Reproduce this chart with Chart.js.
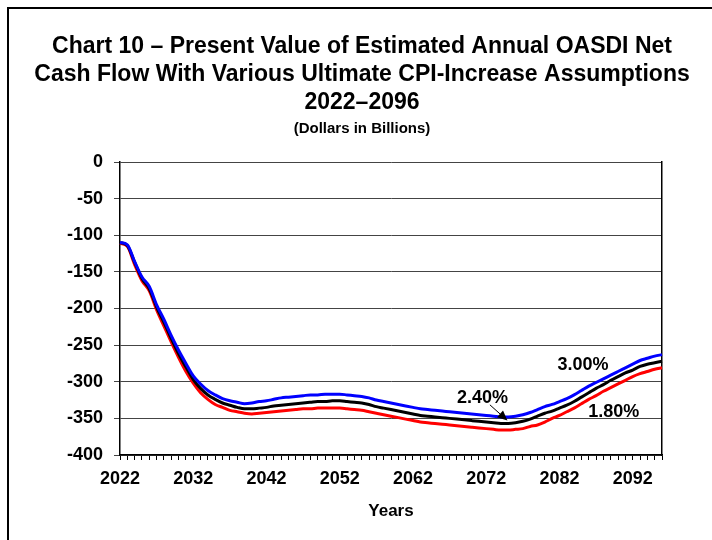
<!DOCTYPE html>
<html>
<head>
<meta charset="utf-8">
<script src="https://cdn.jsdelivr.net/npm/chart.js@4/dist/chart.umd.min.js"></script>
<style>
  html, body { margin: 0; padding: 0; background: #fff; }
  #wrap { position: relative; width: 712px; height: 540px; overflow: hidden; }
  #frame { position: absolute; left: 7px; top: 7px; width: 760px; height: 600px; border: 2px solid #000; box-sizing: border-box; }
  canvas { position: absolute; left: 0; top: 0; }
</style>
</head>
<body>
<div id="wrap">
  <div id="frame"></div>
  <canvas id="c" width="712" height="540"></canvas>
</div>
<script>
// ---- Data ----
const years = [];
for (let y = 2022; y <= 2096; y++) years.push(y);

const labeledYears = [2022, 2032, 2042, 2052, 2062, 2072, 2082, 2092];

const titleLines = [
  'Chart 10 \u2013 Present Value of Estimated Annual OASDI Net',
  'Cash Flow With Various Ultimate CPI-Increase Assumptions',
  '2022\u20132096'
];
const subtitleText = '(Dollars in Billions)';
const xAxisTitle = 'Years';

const seriesNames = ['3.00%', '2.40%', '1.80%'];

// 3.00% ultimate CPI increase (blue)
const cpi300 = [
  -110, -113, -136, -157, -170, -195, -215, -237, -257, -275,
  -292, -303, -312, -318, -323, -326, -328, -330, -329, -327,
  -326, -324, -322, -321, -320, -319, -318, -318, -317, -317,
  -317, -318, -319, -320, -322, -325, -327, -329, -331, -333,
  -335, -337, -338, -339, -340, -341, -342, -343, -344, -345,
  -346, -347, -348, -348, -347, -345, -342, -338, -334, -331,
  -327, -323, -318, -312, -306, -301, -296, -291, -286, -281,
  -276, -271, -268, -265, -263
];
// 2.40% ultimate CPI increase (black)
const cpi240 = [
  -110, -114, -137, -159, -173, -198, -219, -241, -262, -280,
  -297, -309, -318, -324, -329, -332, -335, -337, -337, -336,
  -335, -333, -332, -331, -330, -329, -328, -327, -327, -326,
  -326, -327, -328, -329, -331, -334, -336, -338, -340, -342,
  -344, -346, -347, -348, -349, -350, -351, -352, -353, -354,
  -355, -356, -357, -357, -356, -354, -351, -347, -343, -340,
  -336, -332, -327, -321, -315, -309, -304, -298, -293, -288,
  -284, -279, -276, -274, -272
];
// 1.80% ultimate CPI increase (red)
const cpi180 = [
  -111, -115, -140, -162, -176, -202, -224, -246, -267, -286,
  -302, -315, -324, -331, -335, -339, -341, -343, -344, -343,
  -342, -341, -340, -339, -338, -337, -337, -336, -336, -336,
  -336, -337, -338, -339, -341, -343, -345, -347, -349, -351,
  -353, -355, -356, -357, -358, -359, -360, -361, -362, -363,
  -364, -365, -366, -366, -365, -364, -361, -359, -355, -350,
  -346, -341, -336, -330, -324, -319, -313, -308, -303, -298,
  -293, -289, -286, -283, -281
];

// Annotation positions in data units (year, value)
const noteTexts = ['3.00%', '2.40%', '1.80%'];
const noteYears = [2085.2, 2071.5, 2089.4];
const noteValues = [-277, -322, -341];
const arrowFrom = [2072.5, -331.5];
const arrowTo = [2074.9, -353];

// ---- Chart ----
const FONT = "'Liberation Sans', Arial, Helvetica, sans-serif";

const annotationPlugin = {
  id: 'notes',
  afterDatasetsDraw(chart) {
    const { ctx, scales: { x, y } } = chart;
    const px = (yr) => x.getPixelForValue(yr - years[0]);
    ctx.save();
    ctx.fillStyle = '#000';
    ctx.font = 'bold 18px ' + FONT;
    ctx.textAlign = 'center';
    ctx.textBaseline = 'middle';
    for (let i = 0; i < noteTexts.length; i++) {
      ctx.fillText(noteTexts[i], px(noteYears[i]), y.getPixelForValue(noteValues[i]));
    }
    // arrow
    const x1 = px(arrowFrom[0]), y1 = y.getPixelForValue(arrowFrom[1]);
    const x2 = px(arrowTo[0]), y2 = y.getPixelForValue(arrowTo[1]);
    const ang = Math.atan2(y2 - y1, x2 - x1);
    const head = 10, hw = 4.5;
    const bx = x2 - head * Math.cos(ang), by = y2 - head * Math.sin(ang);
    ctx.strokeStyle = '#000';
    ctx.lineWidth = 1;
    ctx.beginPath();
    ctx.moveTo(x1, y1);
    ctx.lineTo(bx, by);
    ctx.stroke();
    ctx.beginPath();
    ctx.moveTo(x2, y2);
    ctx.lineTo(bx + hw * Math.sin(ang), by - hw * Math.cos(ang));
    ctx.lineTo(bx - hw * Math.sin(ang), by + hw * Math.cos(ang));
    ctx.closePath();
    ctx.fill();
    ctx.restore();
  }
};

new Chart(document.getElementById('c'), {
  type: 'line',
  data: {
    labels: years,
    datasets: [
      { label: seriesNames[0], data: cpi300, borderColor: '#0000FF', order: 1 },
      { label: seriesNames[1], data: cpi240, borderColor: '#000000', order: 2 },
      { label: seriesNames[2], data: cpi180, borderColor: '#FF0000', order: 3 }
    ].map(d => Object.assign(d, { borderWidth: 3, pointRadius: 0, fill: false, cubicInterpolationMode: 'monotone' }))
  },
  options: {
    responsive: false,
    animation: false,
    devicePixelRatio: 1,
    layout: { padding: { left: 12, right: 0, top: 0, bottom: 0 } },
    plugins: {
      legend: { display: false },
      tooltip: { enabled: false },
      title: {
        display: true,
        text: titleLines,
        color: '#000',
        font: { family: FONT, size: 23, weight: 'bold', lineHeight: 28 / 23 },
        padding: { top: 33, bottom: 2 }
      },
      subtitle: {
        display: true,
        text: subtitleText,
        color: '#000',
        font: { family: FONT, size: 15, weight: 'bold', lineHeight: 18 / 15 },
        padding: { top: 1, bottom: 24 }
      }
    },
    scales: {
      x: {
        type: 'category',
        offset: false,
        grid: { display: true, drawOnChartArea: false, drawTicks: true, tickLength: 5, color: '#000', lineWidth: 1 },
        border: { display: true, color: '#000', width: 1.5 },
        ticks: {
          autoSkip: false, maxRotation: 0, minRotation: 0, padding: 8, color: '#000',
          font: { family: FONT, size: 18, weight: 'bold' },
          callback: function (v, i) { return labeledYears.includes(years[i]) ? String(years[i]) : ''; }
        },
        title: {
          display: true, text: xAxisTitle, color: '#000',
          font: { family: FONT, size: 17, weight: 'bold' },
          padding: { top: 0, bottom: 18 }
        },
        afterFit: (s) => { s.height = 85; }
      },
      y: {
        type: 'linear', min: -400, max: 0,
        grid: { color: '#444', lineWidth: 1, tickLength: 6, drawTicks: true },
        border: { display: true, color: '#000', width: 1.5 },
        ticks: { stepSize: 50, padding: 11, color: '#000', font: { family: FONT, size: 18, weight: 'bold' } },
        afterFit: (s) => { s.width = 108; }
      },
      y2: {
        type: 'linear', position: 'right', min: -400, max: 0,
        grid: { drawOnChartArea: false, drawTicks: false },
        border: { display: true, color: '#000', width: 1.5 },
        ticks: { display: false },
        afterFit: (s) => { s.width = 50; }
      }
    }
  },
  plugins: [annotationPlugin]
});
</script>
</body>
</html>
